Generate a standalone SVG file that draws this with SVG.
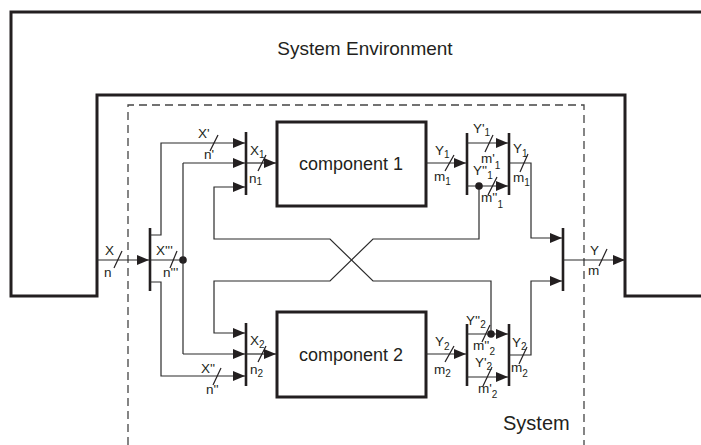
<svg xmlns="http://www.w3.org/2000/svg" width="701" height="445" viewBox="0 0 701 445">
<style>
text{font-family:"Liberation Sans",Arial,sans-serif;fill:#231f20}
.lbl{font-size:13.5px}
.sub{font-size:10px}
.big{font-size:18px}
.env{fill:none;stroke:#231f20;stroke-width:3}
.dash{fill:none;stroke:#444;stroke-width:1.3;stroke-dasharray:8 5}
.box{fill:#fff;stroke:#231f20;stroke-width:3}
.bar{stroke:#231f20;stroke-width:2.6;fill:none}
.ln{fill:none;stroke:#2b2b2b;stroke-width:1.2}
.arr{fill:none;stroke:#2b2b2b;stroke-width:1.2;marker-end:url(#ah)}
.sl{stroke:#231f20;stroke-width:1.2}
.dot{fill:#231f20}
</style>
<defs>
<marker id="ah" markerUnits="userSpaceOnUse" markerWidth="13" markerHeight="11" refX="12" refY="5" orient="auto">
<path d="M0,0 L12,5 L0,10 Z" fill="#231f20"/>
</marker>
</defs>
<g id="environment">
<path class="env" d="M701 12 H11 V296 H97 V95 H625 V296 H701"/>
<text x="365" y="55" text-anchor="middle" style="font-size:19px">System Environment</text>
</g>
<g id="system">
<path class="dash" d="M128 445 V105 H584 V445"/>
<text x="503" y="430" style="font-size:20px">System</text>
</g>
<g id="component1">
<rect class="box" x="277" y="122" width="149" height="84"/>
<text class="big" x="351" y="170" text-anchor="middle">component 1</text>
</g>
<g id="component2">
<rect class="box" x="277" y="312" width="149" height="85"/>
<text class="big" x="351" y="361" text-anchor="middle">component 2</text>
</g>
<g id="split-in"><line class="bar" x1="150" y1="228" x2="150" y2="291"/></g>
<g id="join-in1"><line class="bar" x1="246" y1="132" x2="246" y2="195"/></g>
<g id="join-in2"><line class="bar" x1="246" y1="323" x2="246" y2="386"/></g>
<g id="split-out1"><line class="bar" x1="467" y1="133" x2="467" y2="195"/></g>
<g id="join-out1"><line class="bar" x1="509" y1="133" x2="509" y2="195"/></g>
<g id="split-out2"><line class="bar" x1="467" y1="324" x2="467" y2="386"/></g>
<g id="join-out2"><line class="bar" x1="509" y1="324" x2="509" y2="386"/></g>
<g id="merge-out"><line class="bar" x1="563" y1="228" x2="563" y2="291"/></g>
<g id="connectors">
<path class="arr" d="M97 260 H149"/>
<path class="ln" d="M150 260 H183"/>
<circle class="dot" cx="183" cy="260" r="3.8"/>
<path class="ln" d="M183 163 V354"/>
<path class="arr" d="M183 163 H245"/>
<path class="arr" d="M183 354 H245"/>
<path class="arr" d="M150 235 H161 V143 H245"/>
<path class="arr" d="M150 282 H161 V376 H245"/>
<path class="arr" d="M246 163 H276"/>
<path class="arr" d="M246 354 H276"/>
<path class="arr" d="M479 186 V239 H373 L330 281 H214 V333 H245"/>
<path class="arr" d="M491 334 V281 H373 L330 239 H214 V187 H245"/>
<path class="arr" d="M426 163 H466"/>
<path class="arr" d="M467 143 H508"/>
<path class="arr" d="M467 186 H508"/>
<circle class="dot" cx="479" cy="186" r="3.8"/>
<path class="arr" d="M509 163 H531 V238 H562"/>
<path class="arr" d="M426 354 H466"/>
<path class="arr" d="M467 334 H508"/>
<circle class="dot" cx="491" cy="334" r="3.8"/>
<path class="arr" d="M467 377 H508"/>
<path class="arr" d="M509 355 H531 V281 H562"/>
<path class="arr" d="M563 260 H625"/>
</g>
<g id="slashes">
<line class="sl" x1="114" y1="268" x2="122" y2="251"/>
<line class="sl" x1="170" y1="268" x2="177" y2="251"/>
<line class="sl" x1="210" y1="151" x2="218" y2="135"/>
<line class="sl" x1="258" y1="171" x2="266" y2="155"/>
<line class="sl" x1="258" y1="362" x2="266" y2="346"/>
<line class="sl" x1="213" y1="385" x2="221" y2="368"/>
<line class="sl" x1="445" y1="171" x2="454" y2="155"/>
<line class="sl" x1="485" y1="152" x2="493" y2="135"/>
<line class="sl" x1="488" y1="195" x2="497" y2="177"/>
<line class="sl" x1="520" y1="172" x2="528" y2="154"/>
<line class="sl" x1="445" y1="362" x2="454" y2="346"/>
<line class="sl" x1="482" y1="342" x2="490" y2="325"/>
<line class="sl" x1="483" y1="386" x2="492" y2="367"/>
<line class="sl" x1="519" y1="364" x2="527" y2="347"/>
<line class="sl" x1="599" y1="266" x2="607" y2="249"/>
</g>
<g id="labels">
<text class="lbl" x="105" y="255">X</text>
<text class="lbl" x="104" y="277">n</text>
<text class="lbl" x="156" y="255">X'''</text>
<text class="lbl" x="163" y="277">n'''</text>
<text class="lbl" x="198" y="138">X'</text>
<text class="lbl" x="204" y="159">n'</text>
<text class="lbl" x="250" y="155">X<tspan class="sub" dy="3">1</tspan></text>
<text class="lbl" x="249" y="183">n<tspan class="sub" dy="2">1</tspan></text>
<text class="lbl" x="250" y="345">X<tspan class="sub" dy="3">2</tspan></text>
<text class="lbl" x="250" y="374">n<tspan class="sub" dy="3">2</tspan></text>
<text class="lbl" x="201" y="373">X''</text>
<text class="lbl" x="206" y="394">n''</text>
<text class="lbl" x="435" y="155">Y<tspan class="sub" dy="3">1</tspan></text>
<text class="lbl" x="434" y="181">m<tspan class="sub" dy="4">1</tspan></text>
<text class="lbl" x="473" y="133">Y'<tspan class="sub" dy="3">1</tspan></text>
<text class="lbl" x="481" y="163">m'<tspan class="sub" dy="6">1</tspan></text>
<text class="lbl" x="473" y="175">Y''<tspan class="sub" dy="4">1</tspan></text>
<text class="lbl" x="481" y="202">m''<tspan class="sub" dy="6">1</tspan></text>
<text class="lbl" x="513" y="153">Y<tspan class="sub" dy="4">1</tspan></text>
<text class="lbl" x="513" y="182">m<tspan class="sub" dy="4">1</tspan></text>
<text class="lbl" x="435" y="346">Y<tspan class="sub" dy="4">2</tspan></text>
<text class="lbl" x="434" y="374">m<tspan class="sub" dy="3">2</tspan></text>
<text class="lbl" x="466" y="325">Y''<tspan class="sub" dy="3">2</tspan></text>
<text class="lbl" x="473" y="350">m''<tspan class="sub" dy="5">2</tspan></text>
<text class="lbl" x="475" y="367">Y'<tspan class="sub" dy="3">2</tspan></text>
<text class="lbl" x="478" y="393">m'<tspan class="sub" dy="5">2</tspan></text>
<text class="lbl" x="512" y="347">Y<tspan class="sub" dy="3">2</tspan></text>
<text class="lbl" x="511" y="372">m<tspan class="sub" dy="5">2</tspan></text>
<text class="lbl" x="590" y="255">Y</text>
<text class="lbl" x="588" y="275">m</text>
</g>
</svg>
